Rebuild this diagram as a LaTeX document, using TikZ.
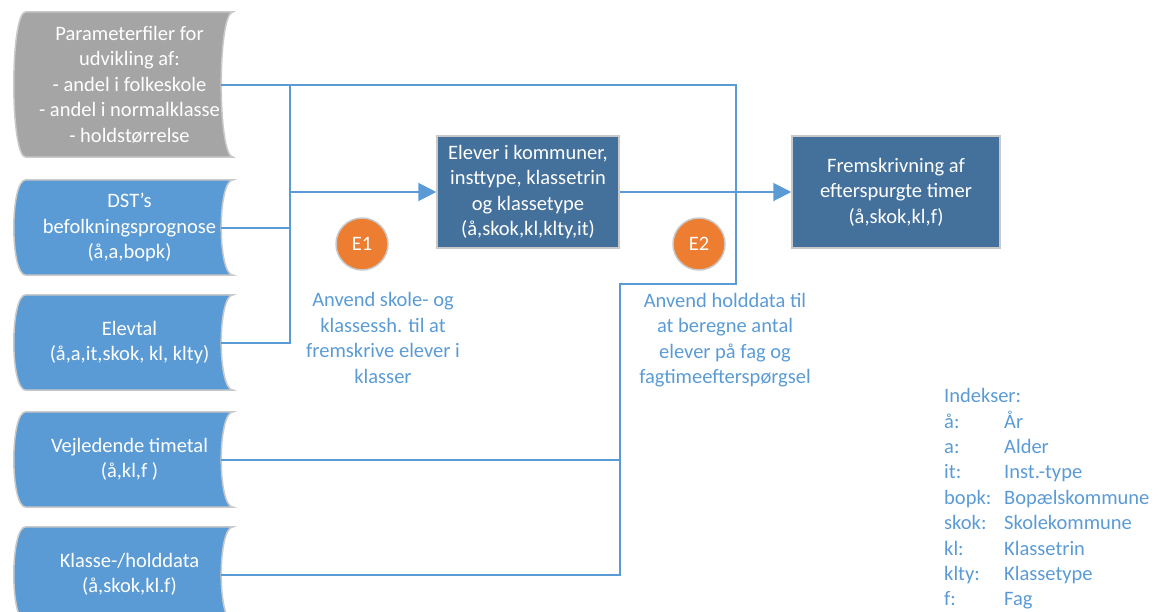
\documentclass[tikz,border=0pt]{standalone}
\usepackage{fontspec}
\setmainfont{Carlito}
\usetikzlibrary{arrows.meta,backgrounds}
\definecolor{lblue}{HTML}{5B9BD5}
\definecolor{dblue}{HTML}{44719C}
\definecolor{orng}{HTML}{ED7D31}
\definecolor{gfill}{HTML}{A5A5A5}
\definecolor{bord}{HTML}{C9C9C9}
\newcommand\drawstore[2]{%
  \path[fill=#2, draw=bord, line width=1.5pt]
    (#1.north west) -- (#1.north east)
    .. controls ([xshift=-16pt]#1.north east) and ([xshift=-16pt]#1.south east) .. (#1.south east)
    -- (#1.south west)
    .. controls ([xshift=-16pt]#1.south west) and ([xshift=-16pt]#1.north west) .. (#1.north west)
    -- cycle;}
\tikzset{
  txt/.style={font=\fontsize{20.5}{25.5}\selectfont},
  store/.style={txt, minimum width=207pt, inner sep=0pt, text=white, align=center},
  procbox/.style={txt, draw=bord, line width=1.5pt, fill=dblue, text=white, align=center, inner sep=0pt},
  circ/.style={txt, circle, draw=bord, line width=1.5pt, fill=orng, minimum size=52pt, inner sep=0pt, text=white},
  desc/.style={txt, text=lblue, align=center, inner sep=0pt},
  legend/.style={txt, text=lblue, inner sep=0pt, anchor=base west},
  conn/.style={draw=lblue, line width=2pt},
  arr/.style={conn, -{Triangle[length=18pt,width=18pt]}}
}
\begin{document}
\begin{tikzpicture}[x=1pt,y=-1pt]
\useasboundingbox (0,0) rectangle (1159,611);
\clip (0,0) rectangle (1159,611);
% input stores
\node[store, minimum height=145pt] (par) at (129.5,84.5) {Parameterfiler for\\udvikling af:\\- andel i folkeskole\\- andel i normalklasse\\- holdstørrelse};
\node[store, minimum height=95pt] (dst) at (129.5,227.5) {DST’s\\befolkningsprognose\\(å,a,bopk)};
\node[store, minimum height=95pt] (elv) at (129.5,342.5) {Elevtal\\(å,a,it,skok, kl, klty)};
\node[store, minimum height=95pt] (vej) at (129.5,459.5) {Vejledende timetal\\(å,kl,f )};
\node[store, minimum height=95pt] (kla) at (129.5,574.5) {Klasse-/holddata\\(å,skok,kl.f)};
\begin{scope}[on background layer]
\drawstore{par}{gfill}
\drawstore{dst}{lblue}
\drawstore{elv}{lblue}
\drawstore{vej}{lblue}
\drawstore{kla}{lblue}
\end{scope}
% process boxes
\node[procbox, minimum width=182pt, minimum height=112pt] (el) at (528,192) {Elever i kommuner,\\insttype, klassetrin\\og klassetype\\(å,skok,kl,klty,it)};
\node[procbox, minimum width=208pt, minimum height=112pt] (fr) at (896,192) {Fremskrivning af\\efterspurgte timer\\(å,skok,kl,f)};
% circles
\node[circ] (e1) at (362,244) {E1};
\node[circ] (e2) at (699,244) {E2};
% descriptions
\node[desc] (d1) at (383,338) {Anvend skole- og\\klassessh. til at\\fremskrive elever i\\klasser};
\node[desc] (d2) at (725,340) {Anvend holddata til\\at beregne antal\\elever på fag og\\fagtimeefterspørgsel};
% junctions
\coordinate (tl) at (290,84.5);
\coordinate (tr) at (736,84.5);
\coordinate (jc) at (736,284);
\coordinate (jd) at (620,284);
% connectors
\draw[conn] ([xshift=-12pt]par.east) -- (tr) -- (jc) -- (jd) -- (jd |- kla.east) -- ([xshift=-12pt]kla.east);
\draw[conn] ([xshift=-12pt]vej.east) -- (jd |- vej.east);
\draw[conn] (tl) -- (tl |- elv.east) -- ([xshift=-12pt]elv.east);
\draw[conn] ([xshift=-12pt]dst.east) -- (tl |- dst.east);
\draw[arr] (tl |- el.west) -- (el.west);
\draw[arr] (el.east) -- (fr.west);
% legend
\node[legend] (lgh) at (944,402.6) {Indekser:};
\foreach \k/\v [count=\i] in {å/År, a/Alder, it/Inst.-type, bopk/Bopælskommune, skok/Skolekommune, kl/Klassetrin, klty/Klassetype, f/Fag} {
  \node[legend] (lk\i) at (944,402.6+25.4*\i) {\k:};
  \node[legend] (lv\i) at (1004,402.6+25.4*\i) {\v};
}
\end{tikzpicture}
\end{document}
